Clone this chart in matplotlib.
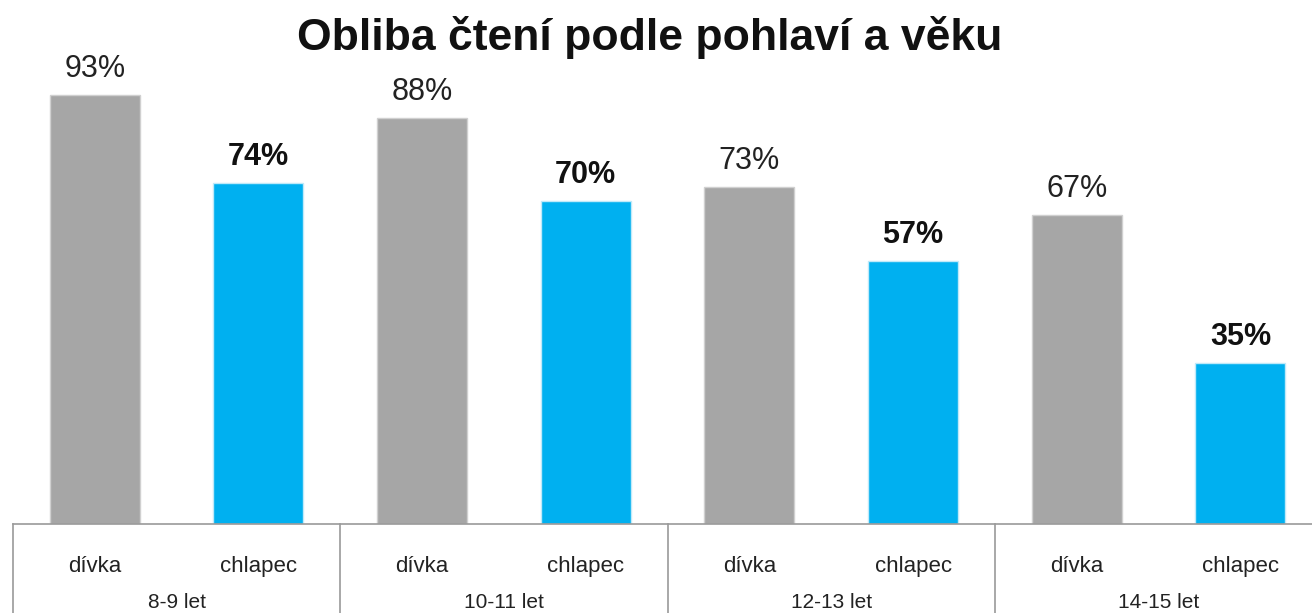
import matplotlib.pyplot as plt
import numpy as np

plt.rcParams['font.family'] = ['Liberation Sans', 'DejaVu Sans']

groups = ["8-9 let", "10-11 let", "12-13 let", "14-15 let"]
sexes = ["dívka", "chlapec"]
girls = [93, 88, 73, 67]
boys = [74, 70, 57, 35]

GRAY = "#A6A6A6"
BLUE = "#00B0F0"
LINE = "#9a9a9a"

W, H = 1312, 613
fig = plt.figure(figsize=(W / 100, H / 100), dpi=100)
base_px = 524
left_px = 13
group_px = 327.3
ax = fig.add_axes([left_px / W, (H - base_px) / H, 1 - left_px / W, base_px / H])

x = np.arange(len(groups))
bw = 0.275
ax.bar(x + 0.25, girls, bw, color=GRAY, edgecolor="#d0d0d0", linewidth=1.0)
ax.bar(x + 0.75, boys, bw, color=BLUE, edgecolor="#bfe9f9", linewidth=1.0)

for xi, g, b in zip(x, girls, boys):
    ax.annotate(f"{g}%", (xi + 0.25, g), xytext=(0, 13), textcoords="offset points",
                ha="center", va="baseline", fontsize=22, color="#222222")
    ax.annotate(f"{b}%", (xi + 0.75, b), xytext=(0, 13), textcoords="offset points",
                ha="center", va="baseline", fontsize=22, fontweight="bold", color="#111111")

ax.set_xlim(0, (W - left_px) / group_px)
ax.set_ylim(0, base_px / 4.61)
for s in ax.spines.values():
    s.set_visible(False)
ax.set_xticks([])
ax.set_yticks([])

# category axis below the bars
tr = ax.get_xaxis_transform()
bottom_ax = -(H - base_px) / base_px
ax.plot([0, 5], [0, 0], transform=tr, color=LINE, lw=1.2, clip_on=False)
for xi in range(len(groups)):
    ax.plot([xi, xi], [0, bottom_ax], transform=tr, color=LINE, lw=1.2, clip_on=False)
    for off, lab in zip([0.25, 0.75], sexes):
        ax.text(xi + off, -(572 - base_px) / base_px, lab, transform=tr,
                ha="center", va="baseline", fontsize=16, color="#222222")
    ax.text(xi + 0.5, -(608 - base_px) / base_px, groups[xi], transform=tr,
            ha="center", va="baseline", fontsize=15, color="#222222")

fig.text(650 / W, 1 - 50 / H, "Obliba čtení podle pohlaví a věku", ha="center",
         va="baseline", fontsize=32, fontweight="bold", color="#111111")

fig.savefig("out.png", dpi=100)
